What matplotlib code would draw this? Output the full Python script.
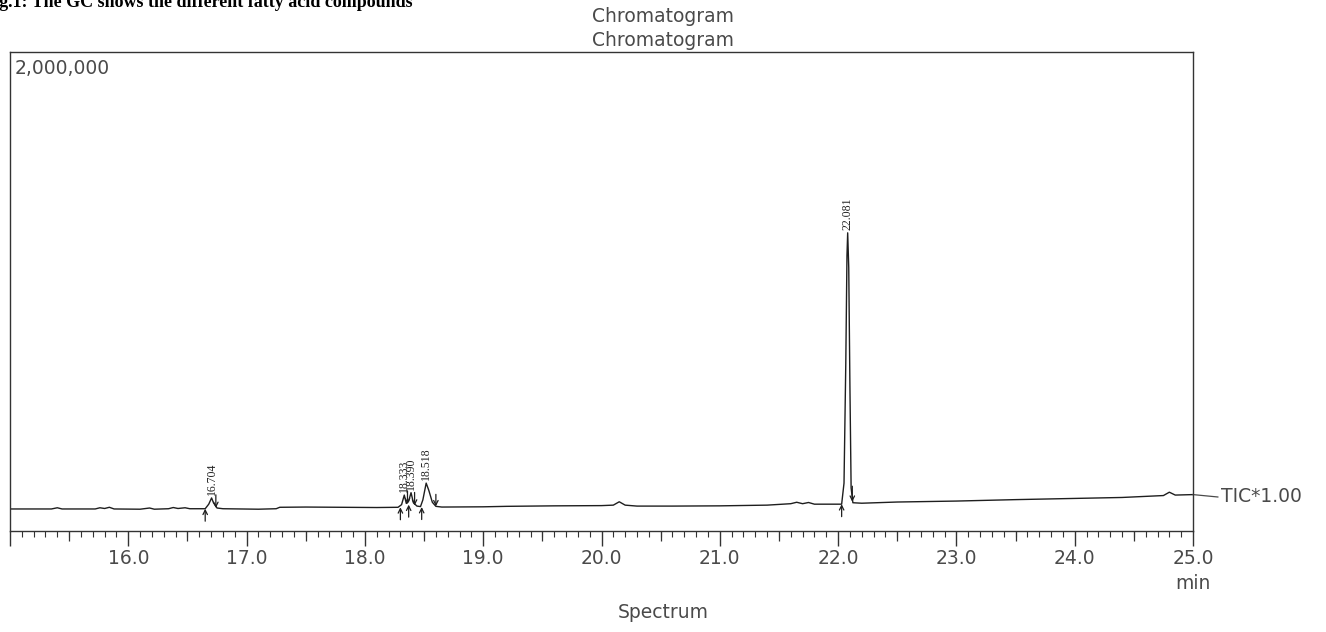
import numpy as np
import matplotlib.pyplot as plt
from matplotlib.ticker import FixedLocator, MultipleLocator

# Trace (retention time in min, intensity)
times = [15.00, 15.35, 15.40, 15.44, 15.72, 15.76, 15.80, 15.84, 15.88, 16.10,
         16.18, 16.22, 16.34, 16.38, 16.42, 16.48, 16.52, 16.60, 16.65, 16.68,
         16.704, 16.72, 16.75, 16.80, 16.95, 17.10, 17.25, 17.28, 17.50, 17.80,
         18.10, 18.28, 18.31, 18.333, 18.35, 18.37, 18.39, 18.41, 18.44, 18.47,
         18.49, 18.518, 18.54, 18.57, 18.60, 18.65, 19.00, 19.20, 19.60, 20.00,
         20.10, 20.15, 20.20, 20.30, 20.60, 21.00, 21.40, 21.60, 21.65, 21.70,
         21.75, 21.80, 22.00, 22.03, 22.05, 22.065, 22.075, 22.081, 22.09, 22.10,
         22.11, 22.125, 22.20, 22.50, 23.00, 23.50, 24.00, 24.40, 24.75, 24.80,
         24.85, 25.00]
intensity = [92000, 92000, 97000, 92000, 92000, 97000, 94000, 99000, 92000, 91000,
             96000, 91000, 93000, 98000, 94000, 97000, 93000, 93000, 93000, 112000,
             138000, 118000, 96000, 93000, 92000, 91000, 93000, 99000, 100000, 99000,
             98000, 99000, 110000, 150000, 115000, 125000, 160000, 118000, 104000, 102000,
             130000, 200000, 170000, 120000, 103000, 100000, 101000, 103000, 105000, 106000,
             108000, 122000, 108000, 104000, 104000, 105000, 108000, 114000, 120000, 114000,
             119000, 112000, 112000, 112000, 200000, 700000, 1150000, 1245000, 1100000, 600000,
             180000, 118000, 116000, 121000, 125000, 131000, 136000, 140000, 148000, 162000,
             150000, 152000]

# Labelled peaks
peak_times = [16.704, 18.333, 18.390, 18.518, 22.081]
peak_labels = ["16.704", "18.333", "18.390", "18.518", "22.081"]
peak_tops = [138000, 150000, 160000, 200000, 1245000]

# Integration start (up arrows) and end (down arrows) markers
start_times = [16.65, 18.30, 18.37, 18.48, 22.03]
start_levels = [93000, 99000, 110000, 100000, 112000]
end_times = [16.74, 18.36, 18.42, 18.60, 22.12]
end_levels = [96000, 112000, 106000, 103000, 122000]
end_lengths = [55000, 55000, 55000, 50000, 65000]

GREY = "#4a4a4a"
LINE = "#1e1e1e"

fig = plt.figure(figsize=(13.26, 6.32), dpi=100)
ax = fig.add_axes([10 / 1326, 1 - 531 / 632, 1183 / 1326, 479 / 632])

ax.plot(times, intensity, color=LINE, lw=1.0)
ax.set_xlim(15.0, 25.0)
ax.set_ylim(0, 2000000)

# Peak labels (rotated, small serif)
for t, lab, top in zip(peak_times, peak_labels, peak_tops):
    ax.text(t, top + 12000, lab, rotation=90, ha="center", va="bottom",
            fontsize=8.5, family="Liberation Serif", color="#222222")

# Start / end arrows
arrow_kw = dict(arrowstyle="->", lw=0.9, color=LINE, mutation_scale=8,
                shrinkA=0, shrinkB=0)
for t, lvl in zip(start_times, start_levels):
    ax.annotate("", xy=(t, lvl), xytext=(t, lvl - 52000), arrowprops=arrow_kw,
                annotation_clip=False)
for t, lvl, ln in zip(end_times, end_levels, end_lengths):
    ax.annotate("", xy=(t, lvl), xytext=(t, lvl + ln), arrowprops=arrow_kw,
                annotation_clip=False)

# Frame and ticks
for s in ax.spines.values():
    s.set_color("#333333")
    s.set_linewidth(1.0)
ax.set_yticks([])
ax.xaxis.set_major_locator(FixedLocator(np.arange(15, 26, 1.0)))
ax.set_xticklabels([""] + [f"{v:.1f}" for v in np.arange(16, 26, 1.0)])
ax.xaxis.set_minor_locator(MultipleLocator(0.1))
ax.tick_params(axis="x", which="major", length=11, width=1.0, color="#333333",
               labelsize=13.5, labelcolor=GREY, pad=2)
ax.tick_params(axis="x", which="minor", length=4, width=0.8, color="#333333")
sec = ax.secondary_xaxis("bottom")
sec.xaxis.set_major_locator(FixedLocator(np.arange(15.5, 25, 1.0)))
sec.tick_params(length=7, width=0.9, color="#333333", labelbottom=False)
sec.spines["bottom"].set_visible(False)

ax.text(0.004, 0.985, "2,000,000", transform=ax.transAxes, ha="left", va="top",
        fontsize=13.5, color=GREY)
ax.text(1.0, -0.09, "min", transform=ax.transAxes, ha="center", va="top",
        fontsize=13.5, color=GREY)

# TIC tag to the right of the trace end
ax.plot([25.0, 25.21], [intensity[-1], intensity[-1] - 10000], color=GREY, lw=0.9,
        clip_on=False)
ax.text(25.24, intensity[-1] - 10000, "TIC*1.00", ha="left", va="center",
        fontsize=13.5, color=GREY, clip_on=False)

fig.text(0.5, 1 - 17 / 632, "Chromatogram", ha="center", va="center",
         fontsize=13.5, color=GREY)
fig.text(0.5, 1 - 40 / 632, "Chromatogram", ha="center", va="center",
         fontsize=13.5, color=GREY)
fig.text(0.5, 1 - 612 / 632, "Spectrum", ha="center", va="center",
         fontsize=13.5, color=GREY)
# caption of the source page, cut by the top edge as in the reference
fig.text(-0.013, 1 - 7 / 632, "Fig.1: The GC shows the different fatty acid compounds",
         ha="left", va="baseline", fontsize=13, fontweight="bold",
         family="Liberation Serif", color="black")

fig.savefig("out.png", dpi=100)
